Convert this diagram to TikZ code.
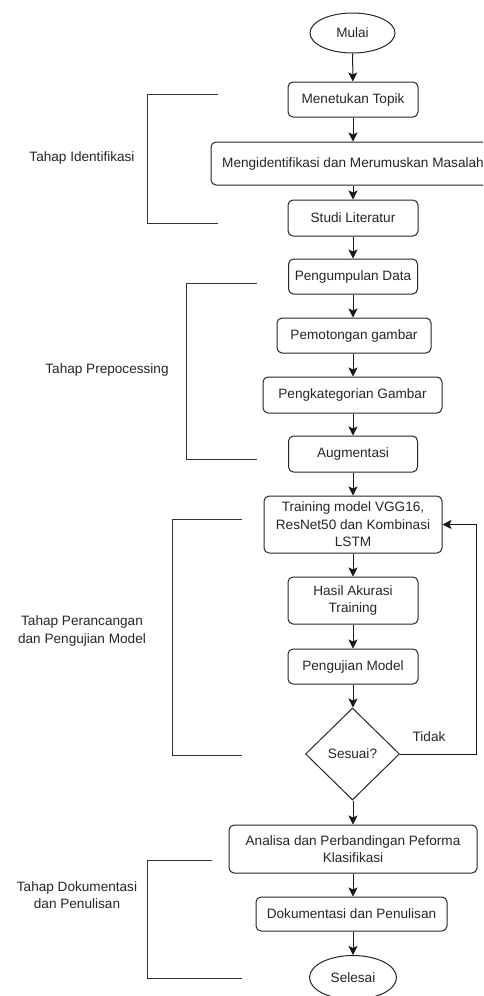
\documentclass[tikz,border=0pt]{standalone}
\usepackage{fontspec}
\setmainfont{Liberation Sans}
\usetikzlibrary{shapes.geometric,arrows.meta}
\begin{document}
\begin{tikzpicture}[x=1pt,y=-1pt,
  lbl/.style={font=\fontsize{13.6}{17.5}\selectfont, text=black!85},
  box/.style={lbl, draw=black!85, line width=1pt, rounded corners=5pt, align=center, inner sep=0pt},
  term/.style={lbl, draw=black!85, line width=1pt, ellipse, inner sep=0pt},
  decision/.style={lbl, draw=black!85, line width=1pt, diamond, inner sep=0pt},
  conn/.style={draw=black!90, line width=1pt, -{Stealth[length=9pt,width=9pt,inset=2pt]}},
  brk/.style={draw=black!80, line width=1pt},
  phase/.style={lbl, align=center}]
\useasboundingbox (0,0) rectangle (483,996);
\clip (0,0) rectangle (483,996);
\fill[white] (0,0) rectangle (483,996);

% main flow
\node[term, minimum width=85pt, minimum height=40pt] (mulai) at (352.5,33) {Mulai};
\node[box, minimum width=130pt, minimum height=35pt] (topik) at (353,99.5) {Menetukan Topik};
\node[box, minimum width=284pt, minimum height=43pt] (ident) at (353,163.5) {Mengidentifikasi dan Merumuskan Masalah};
\node[box, minimum width=130pt, minimum height=36pt] (studi) at (353,218) {Studi Literatur};
\node[box, minimum width=129pt, minimum height=35pt] (kumpul) at (353,276.5) {Pengumpulan Data};
\node[box, minimum width=154pt, minimum height=35pt] (potong) at (354,335.5) {Pemotongan gambar};
\node[box, minimum width=179pt, minimum height=36pt] (kategori) at (352.5,395) {Pengkategorian Gambar};
\node[box, minimum width=129pt, minimum height=36pt] (augment) at (353,454) {Augmentasi};
\node[box, minimum width=178pt, minimum height=57pt] (train) at (353,524.5) {Training model VGG16,\\ResNet50 dan Kombinasi\\LSTM};
\node[box, minimum width=130pt, minimum height=47pt] (hasil) at (353,600.5) {Hasil Akurasi\\Training};
\node[box, minimum width=130pt, minimum height=35pt] (uji) at (353,666.5) {Pengujian Model};
\node[decision, minimum width=94pt, minimum height=92pt] (sesuai) at (352.5,754) {Sesuai?};
\node[box, minimum width=248pt, minimum height=48pt] (analisa) at (353,849) {Analisa dan Perbandingan Peforma\\Klasifikasi};
\node[box, minimum width=191pt, minimum height=34pt] (dok) at (351.5,914) {Dokumentasi dan Penulisan};
\node[term, minimum width=87pt, minimum height=44pt] (selesai) at (353,977.5) {Selesai};

% connectors
\draw[conn] (mulai) -- (topik);
\draw[conn] (topik) -- (topik |- ident.north);
\draw[conn] (ident.south -| studi) -- (studi);
\draw[conn] (studi) -- (kumpul);
\draw[conn] (kumpul) -- (kumpul |- potong.north);
\draw[conn] (kumpul |- potong.south) -- (kumpul |- kategori.north);
\draw[conn] (kumpul |- kategori.south) -- (augment);
\draw[conn] (augment) -- (augment |- train.north);
\draw[conn] (train.south -| hasil) -- (hasil);
\draw[conn] (hasil) -- (uji);
\draw[conn] (uji) -- (uji |- sesuai.north);
\draw[conn] (uji |- sesuai.south) -- (uji |- analisa.north);
\draw[conn] (uji |- analisa.south) -- (uji |- dok.north);
\draw[conn] (uji |- dok.south) -- (uji |- selesai.north);

% feedback loop
\coordinate (fbr) at (476,754);
\coordinate (fbt) at (476,524.5);
\draw[conn] (sesuai.east) -- (fbr) -- (fbt) -- (train.east);
\node[lbl] (tidak) at (429,737) {Tidak};

% phase brackets
\coordinate (b1a) at (218,94);  \coordinate (b1b) at (147,94);
\coordinate (b1c) at (147,223); \coordinate (b1d) at (218,223);
\draw[brk] (b1a) -- (b1b) -- (b1c) -- (b1d);
\node[phase] (p1) at (82,158) {Tahap Identifikasi};

\coordinate (b2a) at (257,283); \coordinate (b2b) at (186,283);
\coordinate (b2c) at (186,459); \coordinate (b2d) at (257,459);
\draw[brk] (b2a) -- (b2b) -- (b2c) -- (b2d);
\node[phase] (p2) at (107,370) {Tahap Prepocessing};

\coordinate (b3a) at (242,519); \coordinate (b3b) at (172,519);
\coordinate (b3c) at (172,755); \coordinate (b3d) at (242,755);
\draw[brk] (b3a) -- (b3b) -- (b3c) -- (b3d);
\node[phase] (p3) at (82,631) {Tahap Perancangan\\dan Pengujian Model};

\coordinate (b4a) at (212,860); \coordinate (b4b) at (147,860);
\coordinate (b4c) at (147,978); \coordinate (b4d) at (242,978);
\draw[brk] (b4a) -- (b4b) -- (b4c) -- (b4d);
\node[phase] (p4) at (77,895) {Tahap Dokumentasi\\dan Penulisan};
\end{tikzpicture}
\end{document}
